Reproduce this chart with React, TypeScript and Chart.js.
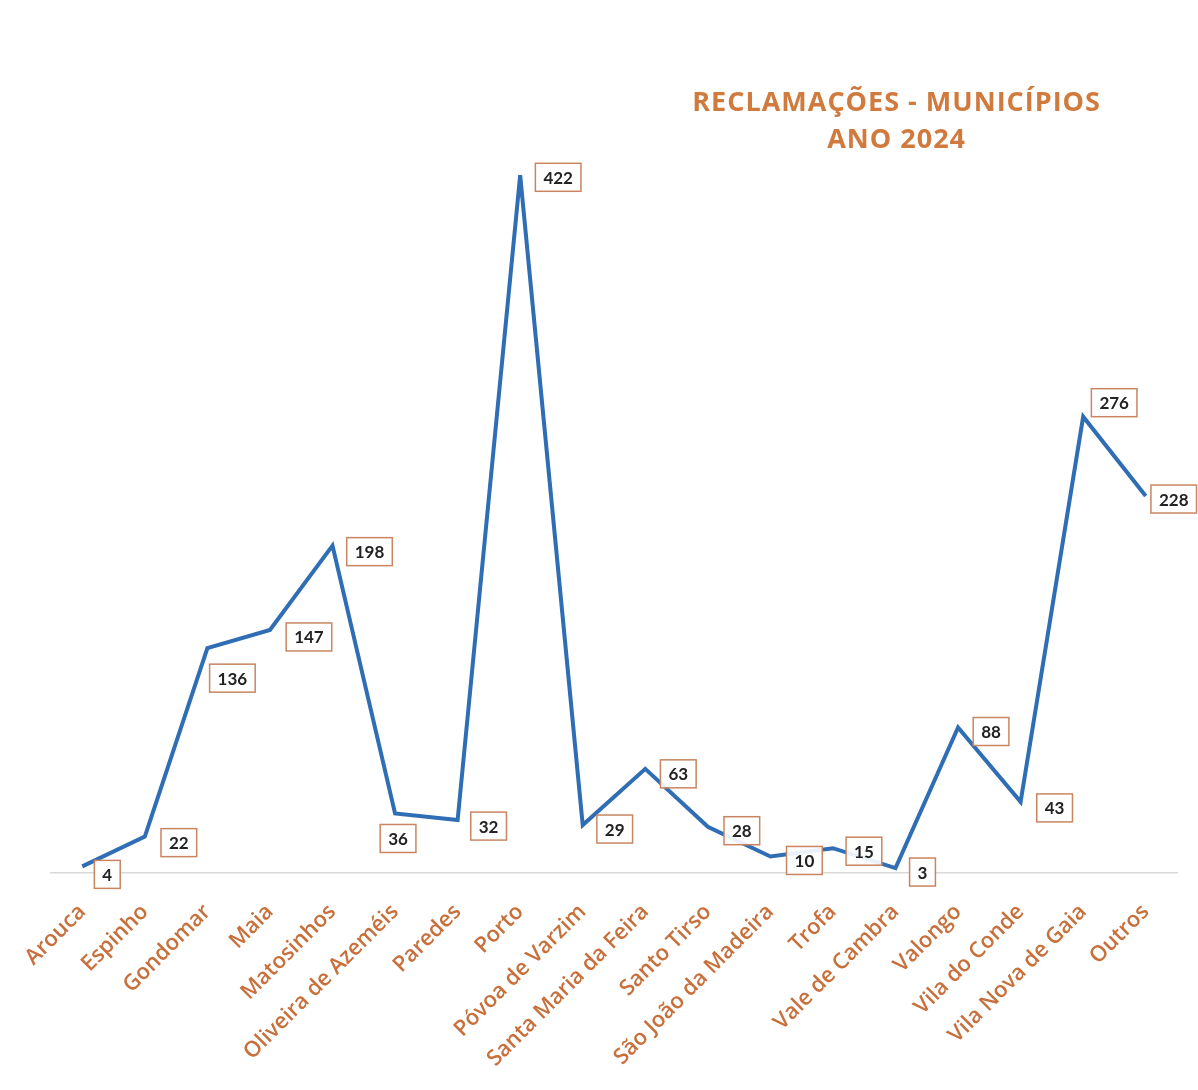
import React, { useEffect, useRef } from "react";
import { Chart, registerables } from "chart.js";

Chart.register(...registerables);

const categories = [
  "Arouca", "Espinho", "Gondomar", "Maia", "Matosinhos", "Oliveira de Azeméis",
  "Paredes", "Porto", "Póvoa de Varzim", "Santa Maria da Feira", "Santo Tirso",
  "São João da Madeira", "Trofa", "Vale de Cambra", "Valongo", "Vila do Conde",
  "Vila Nova de Gaia", "Outros",
];
const values = [4, 22, 136, 147, 198, 36, 32, 422, 29, 63, 28, 10, 15, 3, 88, 43, 276, 228];
const titleLines = ["RECLAMAÇÕES - MUNICÍPIOS", "ANO 2024"];
// label box offsets from each point (dx, dy) in px
const labelOffsets = [
  [25, 8], [34, 6], [25, 30], [39, 7], [37, 6], [3, 25], [31, 6], [38, 2], [32, 4],
  [33, 5], [34, 4], [34, 4], [31, 3], [27, 4], [33, 4], [34, 6], [31, -14], [28, 3],
];

const ORANGE = "#c8703c";
const FONT = "Lato, 'Open Sans', sans-serif";

const labelPlugin = {
  id: "boxLabels",
  afterDatasetsDraw(chart: any) {
    const ctx = chart.ctx;
    const meta = chart.getDatasetMeta(0);
    ctx.save();
    ctx.font = `bold 17px ${FONT}`;
    ctx.textAlign = "center";
    ctx.textBaseline = "middle";
    meta.data.forEach((pt: any, i: number) => {
      const [dx, dy] = labelOffsets[i];
      const cx = pt.x + dx;
      const cy = pt.y + dy;
      const txt = String(values[i]);
      const w = ctx.measureText(txt).width + 16;
      const h = 28;
      ctx.fillStyle = "rgba(255,255,255,0.9)";
      ctx.fillRect(cx - w / 2, cy - h / 2, w, h);
      ctx.strokeStyle = "#c98560";
      ctx.lineWidth = 1.5;
      ctx.strokeRect(cx - w / 2, cy - h / 2, w, h);
      ctx.fillStyle = "#222";
      ctx.fillText(txt, cx, cy + 1);
    });
    ctx.restore();
  },
};

const titlePlugin = {
  id: "cornerTitle",
  afterDraw(chart: any) {
    const ctx = chart.ctx;
    const a = chart.chartArea;
    ctx.save();
    ctx.font = `bold 27px 'Open Sans', sans-serif`;
    try { (ctx as any).letterSpacing = "1px"; } catch (e) {}
    ctx.fillStyle = "#d07a3e";
    ctx.textAlign = "center";
    ctx.textBaseline = "middle";
    const x = a.left + a.width * 0.751;
    ctx.fillText(titleLines[0], x, a.top - 26);
    ctx.fillText(titleLines[1], x, a.top + 11);
    ctx.restore();
  },
};

export default function App() {
  const ref = useRef<HTMLCanvasElement>(null);
  useEffect(() => {
    if (!ref.current) return;
    const chart = new Chart(ref.current, {
      type: "line",
      data: {
        labels: categories,
        datasets: [
          {
            data: values,
            borderColor: "#2f6db5",
            borderWidth: 4,
            pointRadius: 0,
            tension: 0,
            clip: false as any,
          },
        ],
      },
      options: {
        animation: false,
        responsive: false,
        maintainAspectRatio: false,
        layout: { padding: { left: 51, right: 21, top: 129, bottom: 0 } },
        plugins: { legend: { display: false }, title: { display: false }, tooltip: { enabled: false } },
        scales: {
          x: {
            offset: true,
            grid: { display: false },
            border: { display: true, color: "#d9d9d9", width: 1.5 },
            ticks: {
              autoSkip: false,
              maxRotation: 45,
              minRotation: 45,
              padding: 18,
              color: ORANGE,
              font: { family: "'Open Sans', sans-serif", size: 22, weight: 600 },
            },
            afterFit(scale: any) {
              scale.height = 217;
            },
          },
          y: {
            display: false,
            min: 0,
            max: 450,
          },
        },
      },
      plugins: [labelPlugin, titlePlugin],
    });
    return () => chart.destroy();
  }, []);
  return (
    <div style={{ position: "fixed", left: 0, top: 0, width: 1198, height: 1090, background: "#fff" }}>
      <canvas ref={ref} width={1198} height={1090} style={{ width: 1198, height: 1090 }} />
    </div>
  );
}
